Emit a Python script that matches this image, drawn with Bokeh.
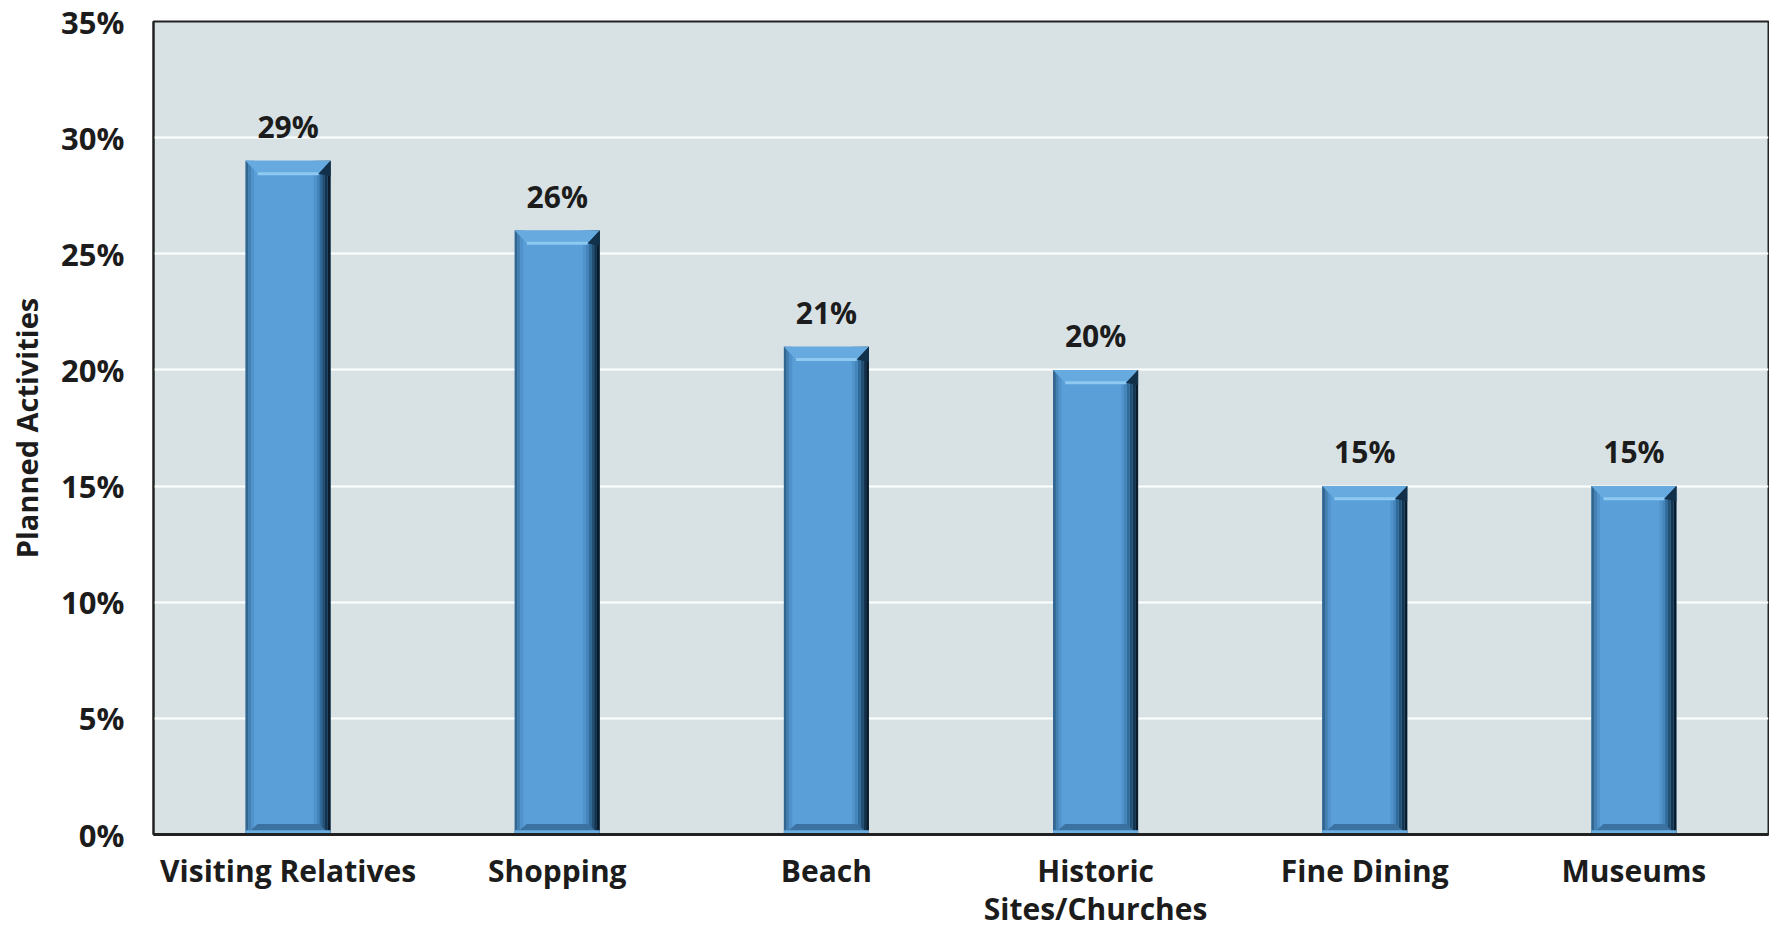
from bokeh.plotting import figure
from bokeh.models import FixedTicker, Range1d, ColumnDataSource
from bokeh.core.properties import value
from bokeh.embed import file_html
from bokeh.resources import INLINE

categories = ["Visiting Relatives", "Shopping", "Beach", "Historic\nSites/Churches", "Fine Dining", "Museums"]
values = [29, 26, 21, 20, 15, 15]
y_ticks = [0, 5, 10, 15, 20, 25, 30, 35]
y_tick_labels = ["0%", "5%", "10%", "15%", "20%", "25%", "30%", "35%"]
value_labels = ["29%", "26%", "21%", "20%", "15%", "15%"]

FONT = "Open Sans"
TXT = "#1c1c1c"

xs = [i + 0.5 for i in range(len(categories))]
W = 0.316

p = figure(frame_width=1615, frame_height=813, x_range=Range1d(0, len(categories)), y_range=Range1d(0, 35),
           output_backend="svg", toolbar_location=None,
           min_border_left=153, min_border_right=1, min_border_top=21, min_border_bottom=95)
p.background_fill_color = "#d8e2e5"
p.border_fill_color = "white"
p.outline_line_color = "#222222"
p.outline_line_width = 2

p.xgrid.visible = False
p.ygrid.grid_line_color = "white"
p.ygrid.grid_line_width = 2
p.ygrid.ticker = FixedTicker(ticks=y_ticks)

src = ColumnDataSource(dict(x=xs, top=values, lab=value_labels))

# main bar body
p.vbar(x="x", top="top", bottom=0, width=W, source=src, fill_color="#5a9fd7", line_color=None)

# right side shading strips (darkest at edge)
d = 0.0105
right_cols = ["#0b1b29", "#153450", "#224f72", "#306a98", "#4484bb", "#5193cb"]
for k, c in enumerate(right_cols):
    p.vbar(x=[x + W / 2 - d * k - d / 2 for x in xs], top=values, bottom=0, width=d,
           fill_color=c, line_color=None)
# left side strips
left_cols = ["#33668f", "#4580b2", "#5092c9"]
for k, c in enumerate(left_cols):
    p.vbar(x=[x - W / 2 + d * k + d / 2 for x in xs], top=values, bottom=0, width=d,
           fill_color=c, line_color=None)

# top bevel
bw = 0.045
bh = 0.55
top_xs, top_ys = [], []
for x, v in zip(xs, values):
    top_xs.append([x - W / 2, x + W / 2, x + W / 2 - bw, x - W / 2 + bw])
    top_ys.append([v, v, v - bh, v - bh])
p.patches(top_xs, top_ys, fill_color="#67aadf", line_color=None)
p.segment(x0=[x - W / 2 + bw for x in xs], x1=[x + W / 2 - bw for x in xs],
          y0=[v - bh for v in values], y1=[v - bh for v in values], line_color="#8dc9f1", line_width=3)
# right top corner dark triangle
rt_xs, rt_ys = [], []
for x, v in zip(xs, values):
    rt_xs.append([x + W / 2, x + W / 2, x + W / 2 - bw])
    rt_ys.append([v, v - bh * 1.2, v - bh])
p.patches(rt_xs, rt_ys, fill_color="#123049", line_color=None)

# bottom bevel
bbh = 0.45
bot_xs, bot_ys = [], []
for x in xs:
    bot_xs.append([x - W / 2, x + W / 2, x + W / 2 - bw, x - W / 2 + bw])
    bot_ys.append([0, 0, bbh, bbh])
p.patches(bot_xs, bot_ys, fill_color="#3c72a1", line_color=None)
p.segment(x0=[x - W / 2 for x in xs], x1=[x + W / 2 for x in xs], y0=[0.12] * len(xs), y1=[0.12] * len(xs),
          line_color="#6aaee2", line_width=3)

# value labels
p.text(x="x", y="top", text="lab", source=src, text_align="center", text_baseline="bottom",
       y_offset=-14, text_font=value(FONT), text_font_style="bold", text_font_size="30px",
       text_color=TXT)

# axes
p.xaxis.ticker = FixedTicker(ticks=xs)
p.xaxis.major_label_overrides = {x: c for x, c in zip(xs, categories)}
p.xaxis.major_tick_line_color = None
p.xaxis.minor_tick_line_color = None
p.xaxis.axis_line_color = "#222222"
p.xaxis.axis_line_width = 3
p.xaxis.major_label_standoff = 9
p.xaxis.major_label_text_font = FONT
p.xaxis.major_label_text_font_style = "bold"
p.xaxis.major_label_text_font_size = "30px"
p.xaxis.major_label_text_line_height = 0.95
p.xaxis.major_label_text_color = TXT

p.yaxis.ticker = FixedTicker(ticks=y_ticks)
p.yaxis.major_label_overrides = {t: l for t, l in zip(y_ticks, y_tick_labels)}
p.yaxis.major_tick_line_color = None
p.yaxis.minor_tick_line_color = None
p.yaxis.axis_line_color = "#222222"
p.yaxis.axis_line_width = 2
p.yaxis.major_label_standoff = 23
p.yaxis.major_label_text_font = FONT
p.yaxis.major_label_text_font_style = "bold"
p.yaxis.major_label_text_font_size = "31px"
p.yaxis.major_label_text_color = TXT
p.yaxis.axis_label = "Planned Activities"
p.yaxis.axis_label_text_font = FONT
p.yaxis.axis_label_text_font_style = "bold"
p.yaxis.axis_label_text_font_size = "29px"
p.yaxis.axis_label_text_color = TXT
p.yaxis.axis_label_standoff = 12

open("out.html", "w").write(file_html(p, INLINE))
